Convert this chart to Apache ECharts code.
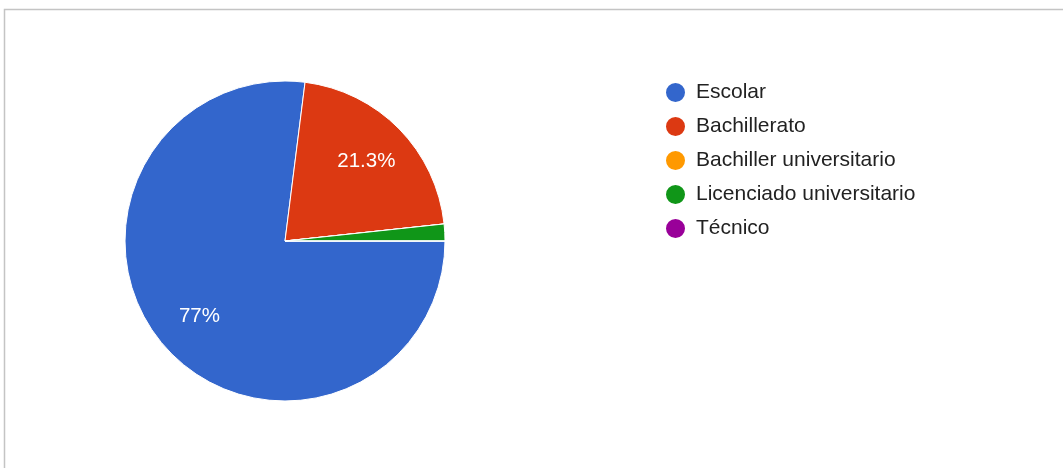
<!DOCTYPE html>
<html>
<head>
<meta charset="utf-8">
<script src="https://cdn.jsdelivr.net/npm/echarts@6/dist/echarts.min.js"></script>
<style>
html,body{margin:0;padding:0;background:#fff;}
#chart{width:1063px;height:468px;}
</style>
</head>
<body>
<div id="chart"></div>
<script>
const categories = ["Escolar", "Bachillerato", "Bachiller universitario", "Licenciado universitario", "Técnico"];
const values = [77, 21.3, 0, 1.7, 0];
const colors = ["#3366cc", "#dc3912", "#ff9900", "#109618", "#990099"];

const data = categories.map((c, i) => ({ name: c, value: values[i] }));
const total = values.reduce((a, b) => a + b, 0);

const chart = echarts.init(document.getElementById('chart'), null, { renderer: 'canvas' });
chart.setOption({
  animation: false,
  color: colors,
  graphic: [{
    type: 'rect',
    shape: { x: 4.5, y: 9.5, width: 1100, height: 500 },
    style: { fill: 'none', stroke: '#c4c4c4', lineWidth: 1.5 },
    z: -10
  }],
  legend: {
    orient: 'vertical',
    left: 659,
    top: 76,
    icon: 'circle',
    itemWidth: 21,
    itemHeight: 21,
    itemGap: 11,
    textStyle: { fontFamily: 'Liberation Sans, Arial, sans-serif', fontSize: 21, lineHeight: 21, color: '#222', padding: [0, 0, 0, 5] },
    data: categories
  },
  series: [
    {
      type: 'pie',
      center: [285, 241],
      radius: [0, 160],
      startAngle: 0,
      clockwise: true,
      silent: true,
      label: { show: false },
      labelLine: { show: false },
      itemStyle: { borderColor: '#fff', borderWidth: 1 },
      data: data
    },
    {
      type: 'pie',
      center: [285, 241],
      radius: [62, 160],
      startAngle: 0,
      clockwise: true,
      silent: true,
      legendHoverLink: false,
      itemStyle: { color: 'rgba(0,0,0,0)' },
      labelLine: { show: false },
      label: {
        show: true,
        position: 'inside',
        color: '#fff',
        fontFamily: 'Liberation Sans, Arial, sans-serif',
        fontSize: 20.5,
        formatter: p => (p.value / total * 100 >= 5 ? (Math.round(p.value / total * 1000) / 10) + '%' : '')
      },
      data: data.map(d => ({ name: d.name, value: d.value }))
    }
  ]
});
</script>
</body>
</html>
